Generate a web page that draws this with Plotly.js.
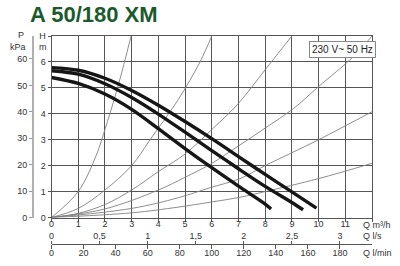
<!DOCTYPE html>
<html>
<head>
<meta charset="utf-8">
<script src="https://cdn.plot.ly/plotly-3.0.1.min.js"></script>
<style>html,body{margin:0;padding:0;background:#fff;}#chart{width:400px;height:266px;}</style>
</head>
<body>
<div id="chart"></div>
<script>
// ---- data ----
var chartTitle = "A 50/180 XM";
var supplyLabel = "230 V~ 50 Hz";

// pump curves: Q (m3/h) vs H (m)
var pumpTopQ = [0, 1, 2, 3, 4, 5, 6, 7, 8, 9, 9.92];
var pumpTopH = [5.78, 5.68, 5.37, 4.9, 4.33, 3.7, 3.04, 2.35, 1.66, 0.99, 0.36];
var pumpMidQ = [0, 1, 2, 3, 4, 5, 6, 7, 8, 9, 9.42];
var pumpMidH = [5.66, 5.53, 5.16, 4.63, 3.99, 3.29, 2.58, 1.88, 1.2, 0.58, 0.3];
var pumpLowQ = [0, 1, 2, 3, 4, 5, 6, 7, 8, 8.22];
var pumpLowH = [5.4, 5.17, 4.76, 4.17, 3.43, 2.66, 1.92, 1.21, 0.52, 0.33];

// system curves (thin lines from origin)
var sys1Q = [0, 1, 1.68, 1.88, 2.5, 2.98];
var sys1H = [0, 1.0, 2.41, 3.0, 5.1, 7.0];
var sys2Q = [0, 1, 2, 3, 3.69, 4.74, 5.56, 6.0];
var sys2H = [0, 0.35, 1.06, 2.0, 3.0, 4.54, 6.0, 7.0];
var sys3Q = [0, 1, 2, 3, 4, 5, 6.06, 7, 8, 9];
var sys3H = [0, 0.16, 0.5, 1.06, 1.77, 2.45, 3.45, 4.4, 5.7, 7.0];
var sys4Q = [0, 2, 4, 5, 5.94, 7.06, 8, 9.06, 10, 11.3, 12];
var sys4H = [0, 0.33, 1.06, 1.55, 2.05, 2.8, 3.45, 4.2, 5.05, 6.2, 7.0];
var sys5Q = [0, 3, 4.74, 5.94, 7.06, 8, 10, 12];
var sys5H = [0, 0.35, 0.76, 1.15, 1.5, 2.0, 3.0, 4.08];
var sys6Q = [0, 3, 4.74, 5.94, 7.06, 8, 10, 12];
var sys6H = [0, 0.18, 0.4, 0.59, 0.78, 1.0, 1.5, 2.09];

// axis ticks
var qTicks = [0, 1, 2, 3, 4, 5, 6, 7, 8, 9, 10, 11, 12];
var qLabels = ["0", "1", "2", "3", "4", "5", "6", "7", "8", "9", "10", "11", ""];
var hTicks = [0, 1, 2, 3, 4, 5, 6, 7];
var hLabels = ["0", "1", "2", "3", "4", "5", "6", "H"];
var kpaTicks = [0, 10, 20, 30, 40, 50, 60];
var lsTicks = [0, 0.5, 1, 1.5, 2, 2.5, 3];
var lsLabels = ["0", "0,5", "1", "1,5", "2", "2,5", "3"];
var lminTicks = [0, 20, 40, 60, 80, 100, 120, 140, 160, 180];

// ---- drawing ----
var W = 400, H = 266, ML = 20, MR = 28, MT = 36, MB = 10;
var PW = W - ML - MR, PH = H - MT - MB;
function px(x) { return (x - ML) / PW; }
function py(y) { return (H - MB - y) / PH; }
var xDomLeft = px(51.5);
var yDomBottom = py(217.5);

var traces = [];
var sysSets = [[sys1Q, sys1H], [sys2Q, sys2H], [sys3Q, sys3H], [sys4Q, sys4H], [sys5Q, sys5H], [sys6Q, sys6H]];
sysSets.forEach(function (s) {
  traces.push({x: s[0], y: s[1], mode: 'lines', line: {color: '#808080', width: 0.9, shape: 'spline', smoothing: 1}, hoverinfo: 'skip', showlegend: false});
});
[[pumpTopQ, pumpTopH], [pumpMidQ, pumpMidH], [pumpLowQ, pumpLowH]].forEach(function (s) {
  traces.push({x: s[0], y: s[1], mode: 'lines', line: {color: '#161616', width: 3.4, shape: 'spline', smoothing: 0.8}, showlegend: false});
});
// helper traces to activate secondary axes
traces.push({x: [0], y: [0], xaxis: 'x2', yaxis: 'y', mode: 'markers', marker: {opacity: 0}, showlegend: false, hoverinfo: 'skip'});
traces.push({x: [0], y: [0], xaxis: 'x3', yaxis: 'y', mode: 'markers', marker: {opacity: 0}, showlegend: false, hoverinfo: 'skip'});
traces.push({x: [0], y: [0], xaxis: 'x', yaxis: 'y2', mode: 'markers', marker: {opacity: 0}, showlegend: false, hoverinfo: 'skip'});

var FAM = 'Liberation Sans, Arial, sans-serif';
var lblFont = {family: FAM, size: 9, color: '#333'};
var gridC = '#555555';

function note(t, x, y, xa) {
  return {text: t, xref: 'paper', yref: 'paper', x: px(x), y: py(y), xanchor: xa || 'center', yanchor: 'middle', showarrow: false, font: lblFont};
}

var layout = {
  width: W, height: H,
  margin: {l: ML, r: MR, t: MT, b: MB, pad: 0, autoexpand: false},
  paper_bgcolor: '#fff', plot_bgcolor: '#fff',
  showlegend: false,
  title: {text: '<b>' + chartTitle + '</b>', x: 30 / W, xanchor: 'left', xref: 'container', y: 1 - 14 / H, yref: 'container', yanchor: 'middle',
          automargin: false, font: {family: FAM, size: 22, color: '#1b5a2c'}},
  xaxis: {domain: [xDomLeft, 1], range: [0, 12], tickvals: qTicks, ticktext: qLabels, ticks: 'outside', ticklen: 3, tickcolor: gridC,
          ticklabelstandoff: -5, automargin: false,
          showgrid: true, gridcolor: gridC, gridwidth: 1, zeroline: false, showline: true, linecolor: gridC, linewidth: 1, mirror: true,
          tickfont: lblFont, anchor: 'y', fixedrange: true},
  yaxis: {domain: [yDomBottom, 1], range: [0, 7], tickvals: hTicks, ticktext: hLabels, ticks: 'outside', ticklen: 3, tickcolor: gridC,
          automargin: false,
          showgrid: true, gridcolor: gridC, gridwidth: 1, zeroline: false, showline: true, linecolor: gridC, linewidth: 1, mirror: true,
          tickfont: lblFont, anchor: 'x', fixedrange: true},
  yaxis2: {overlaying: 'y', anchor: 'free', position: px(33), side: 'left', range: [0, 7 * 9.81], tickvals: kpaTicks, automargin: false,
           ticks: 'outside', ticklen: 3, tickcolor: '#999', showgrid: false, zeroline: false, showline: true, linecolor: '#b0b0b0', linewidth: 2,
           tickfont: lblFont, fixedrange: true},
  xaxis2: {overlaying: 'x', anchor: 'free', position: py(244), side: 'top', range: [0, 12 / 3.6], tickvals: lsTicks, ticktext: lsLabels,
           automargin: false,
           ticks: 'outside', ticklen: 3, tickcolor: '#555', ticklabelstandoff: -2, showgrid: false, zeroline: false, showline: true, linecolor: '#555', linewidth: 1,
           tickfont: lblFont, fixedrange: true},
  xaxis3: {overlaying: 'x', anchor: 'free', position: py(244), side: 'bottom', range: [0, 200], tickvals: lminTicks, automargin: false,
           ticks: 'outside', ticklen: 4, tickcolor: '#555', ticklabelstandoff: -4, showgrid: false, zeroline: false, showline: false,
           tickfont: lblFont, fixedrange: true},
  annotations: [
    {text: supplyLabel, xref: 'x', yref: 'y', x: 10.89, y: 6.47, showarrow: false, font: {family: FAM, size: 10, color: '#222'},
     bgcolor: '#fff', bordercolor: '#888', borderwidth: 1, borderpad: 2},
    note('m', 43, 47.5),
    note('P', 21, 35),
    note('kPa', 18, 47.5),
    note('Q m³/h', 361, 225, 'left'),
    note('Q l/s', 361, 236, 'left'),
    note('Q l/min', 361, 253, 'left')
  ]
};

Plotly.newPlot('chart', traces, layout, {staticPlot: true, displayModeBar: false});
</script>
</body>
</html>
